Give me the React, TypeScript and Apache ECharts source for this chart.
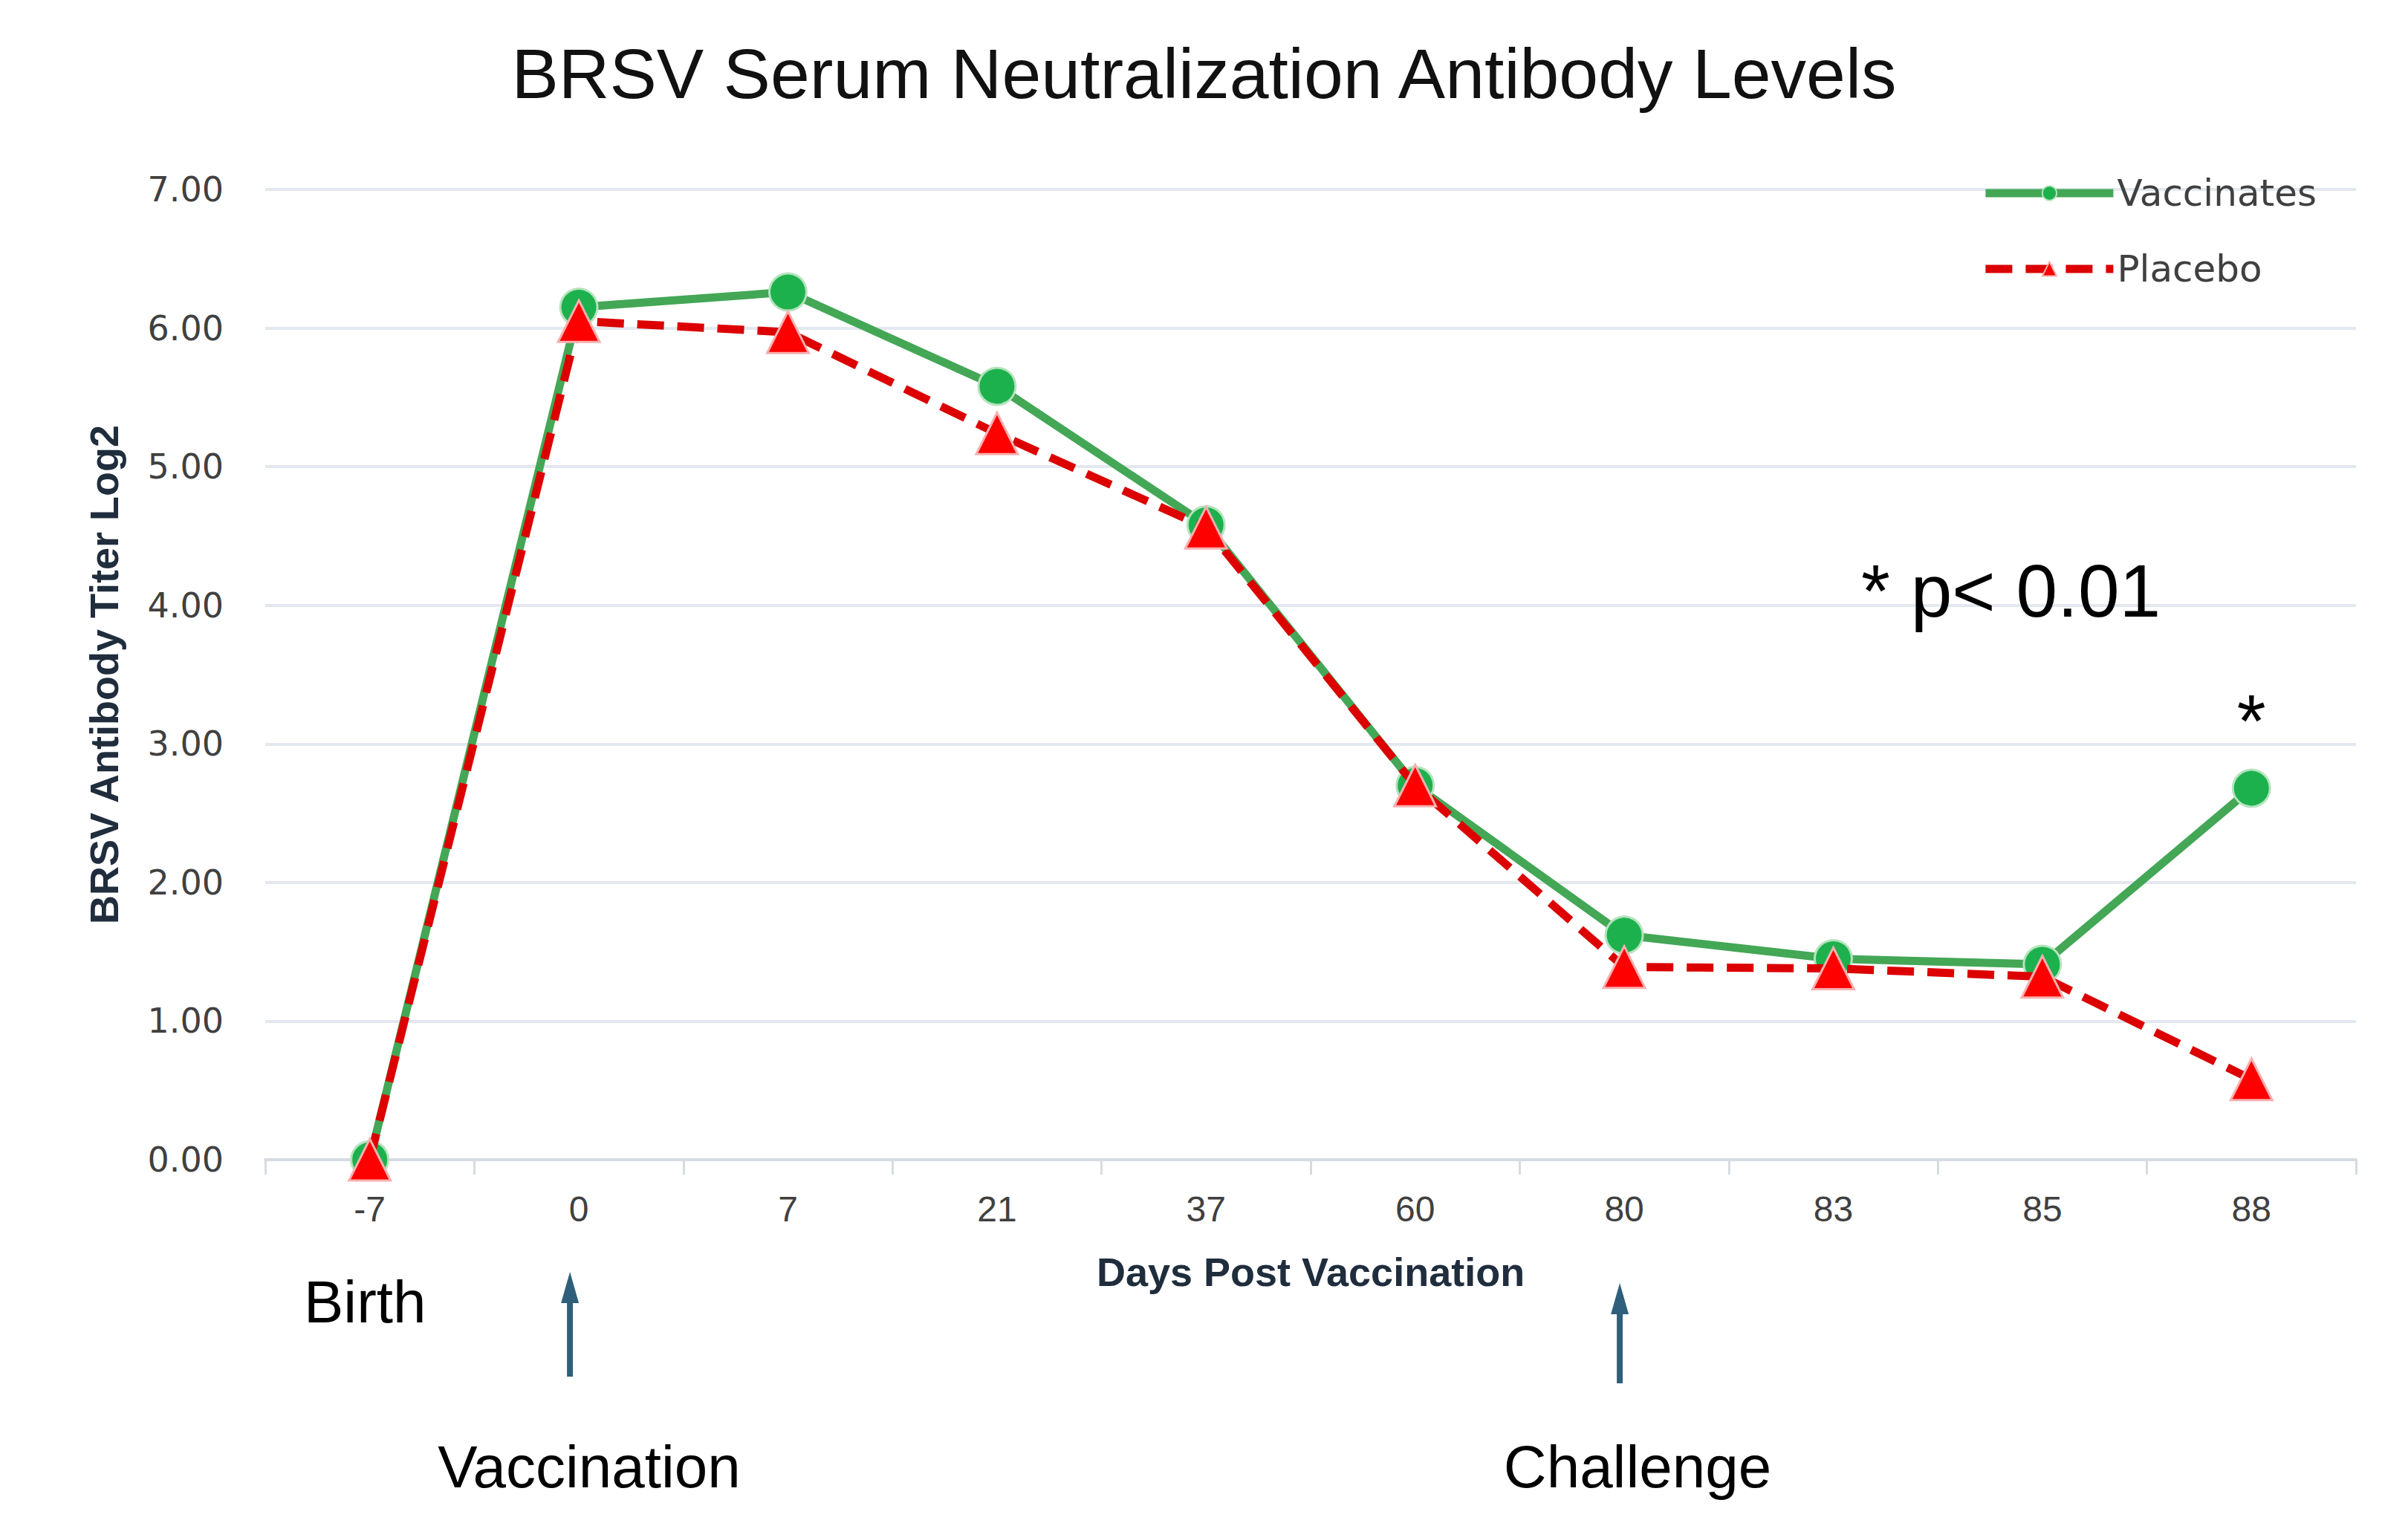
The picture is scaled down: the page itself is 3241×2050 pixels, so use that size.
import React, { useEffect, useRef } from "react";
import * as echarts from "echarts";

const categories = ["-7", "0", "7", "21", "37", "60", "80", "83", "85", "88"];
const vaccinates = [0.0, 6.15, 6.26, 5.58, 4.58, 2.7, 1.62, 1.45, 1.41, 2.68];
const placebo = [0.0, 6.05, 5.97, 5.24, 4.56, 2.7, 1.39, 1.38, 1.32, 0.58];
const yMin = 0;
const yMax = 7;
const yInterval = 1;
const titleText = "BRSV Serum Neutralization Antibody Levels";
const yName = "BRSV Antibody Titer Log2";
const xName = "Days Post Vaccination";
const vaccinationIndex = 1;
const challengeIndex = 6;
const starIndex = 9;

export default function App() {
  const ref = useRef<HTMLDivElement>(null);
  useEffect(() => {
    if (!ref.current) return;
    const chart = echarts.init(ref.current, null, { renderer: "svg" });
    const narrow = "'Liberation Sans Narrow', 'Liberation Sans', Arial, sans-serif";
    const sans = "'Liberation Sans', Arial, sans-serif";
    chart.setOption({
      animation: false,
      backgroundColor: "#ffffff",
      title: {
        text: titleText,
        left: "center",
        top: 46,
        textStyle: { fontFamily: sans, fontSize: 95, fontWeight: "normal", color: "#111111" },
      },
      legend: {
        orient: "vertical",
        right: 118,
        top: 230,
        itemWidth: 172,
        itemHeight: 24,
        itemGap: 52,
        lineStyle: { width: 11 },
        textStyle: { fontFamily: "'DejaVu Sans', sans-serif", fontSize: 50, color: "#404040" },
        data: ["Vaccinates", "Placebo"],
      },
      grid: { left: 357, right: 70, top: 255, bottom: 489, containLabel: false },
      xAxis: {
        type: "category",
        data: categories,
        boundaryGap: true,
        axisLine: { show: true, lineStyle: { color: "#d6dbe2", width: 4 } },
        axisTick: { show: true, length: 20, lineStyle: { color: "#d6dbe2", width: 3 } },
        axisLabel: { fontFamily: narrow, fontSize: 48, color: "#404040", margin: 42 },
        name: xName,
        nameLocation: "middle",
        nameGap: 124,
        nameTextStyle: { fontFamily: narrow, fontWeight: "bold", fontSize: 54, color: "#1f2d3d" },
      },
      yAxis: {
        type: "value",
        min: yMin,
        max: yMax,
        interval: yInterval,
        axisLine: { show: false },
        axisTick: { show: false },
        axisLabel: {
          fontFamily: "'DejaVu Sans', sans-serif",
          fontSize: 46,
          color: "#404040",
          margin: 56,
          formatter: (v: number) => v.toFixed(2),
        },
        splitLine: { lineStyle: { color: "#e3e8ef", width: 4 } },
        name: yName,
        nameLocation: "middle",
        nameGap: 190,
        nameRotate: 90,
        nameTextStyle: { fontFamily: narrow, fontWeight: "bold", fontSize: 54, color: "#1f2d3d" },
      },
      series: [
        {
          name: "Vaccinates",
          type: "line",
          data: vaccinates,
          symbol: "circle",
          symbolSize: 50,
          z: 2,
          lineStyle: { color: "#43a756", width: 11 },
          itemStyle: { color: "#1db14e", borderColor: "#b5e3bd", borderWidth: 3 },
        },
        {
          name: "Placebo",
          type: "line",
          data: placebo,
          symbol: "triangle",
          symbolSize: 56,
          z: 3,
          lineStyle: { color: "#dc0000", width: 11, type: [36, 18] },
          itemStyle: { color: "#ff0000", borderColor: "#f7b0b0", borderWidth: 3 },
        },
      ],
    });

    const xv = chart.convertToPixel({ xAxisIndex: 0 }, vaccinationIndex) as number;
    const xc = chart.convertToPixel({ xAxisIndex: 0 }, challengeIndex) as number;
    const xs = chart.convertToPixel({ xAxisIndex: 0 }, starIndex) as number;
    const arrowColor = "#2f5f7a";
    const arrow = (x: number, yTop: number, yBottom: number) => [
      {
        type: "line",
        shape: { x1: x, y1: yBottom, x2: x, y2: yTop + 30 },
        style: { stroke: arrowColor, lineWidth: 8 },
      },
      {
        type: "polygon",
        shape: { points: [[x, yTop], [x - 12, yTop + 42], [x + 12, yTop + 42]] },
        style: { fill: arrowColor },
      },
    ];
    const txt = (text: string, x: number, y: number, size: number, align = "center") => ({
      type: "text",
      x,
      y,
      style: {
        text,
        fontFamily: sans,
        fontSize: size,
        fill: "#000000",
        textAlign: align,
        textVerticalAlign: "middle",
      },
    });
    chart.setOption({
      graphic: [
        ...arrow(xv - 12, 1712, 1853),
        ...arrow(xc - 6, 1727, 1862),
        txt("Birth", 409, 1752, 80, "left"),
        txt("Vaccination", 793, 1974, 80),
        txt("Challenge", 2204, 1974, 80),
        txt("* p< 0.01", 2505, 795, 100, "left"),
        txt("*", xs, 970, 100),
      ],
    });
    return () => chart.dispose();
  }, []);
  return (
    <div
      ref={ref}
      style={{ position: "absolute", left: 0, top: 0, width: 3241, height: 2050 }}
    />
  );
}
